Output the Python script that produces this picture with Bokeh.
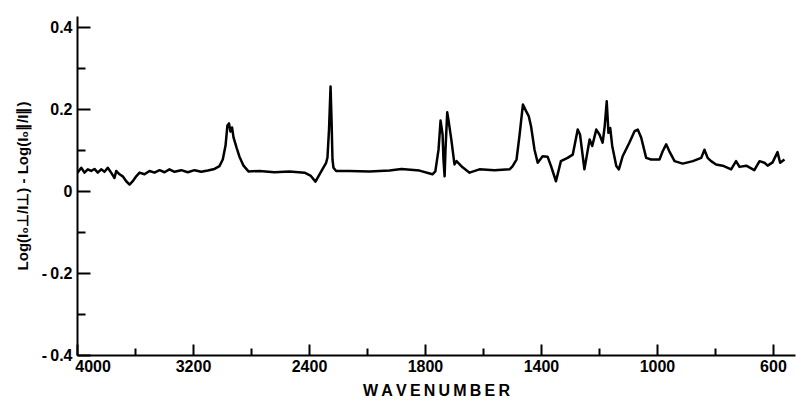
import numpy as np
from bokeh.plotting import figure
from bokeh.models import FixedTicker, Range1d, ColumnDataSource
from bokeh.embed import file_html
from bokeh.resources import INLINE

# ---- data ----
wavenumber = [
    4000, 3974, 3952, 3929, 3906, 3883, 3860, 3837, 3814, 3791, 3768, 3745, 3733, 3710,
    3688, 3664, 3641, 3619, 3595, 3572, 3538, 3503, 3469, 3434, 3400, 3366, 3331, 3285,
    3239, 3193, 3147, 3101, 3055, 3021, 2998, 2979, 2966, 2955, 2945, 2934, 2924, 2903,
    2883, 2855, 2821, 2745, 2641, 2538, 2434, 2395, 2369, 2348, 2314, 2307, 2299, 2291,
    2286, 2281, 2276, 2262, 2193, 2090, 1986, 1924, 1831, 1776, 1766, 1755, 1748, 1741,
    1738, 1734, 1731, 1725, 1721, 1711, 1700, 1693, 1672, 1648, 1614, 1562, 1510, 1500,
    1486, 1476, 1464, 1453, 1444, 1436, 1424, 1413, 1396, 1379, 1367, 1350, 1333, 1310,
    1292, 1275, 1267, 1252, 1234, 1225, 1211, 1200, 1189, 1182, 1175, 1169, 1163, 1156,
    1142, 1133, 1120, 1097, 1079, 1068, 1056, 1039, 1022, 993, 982, 970, 959, 941,
    913, 878, 849, 838, 827, 815, 798, 775, 746, 729, 717, 694, 666, 648,
    631, 620, 603, 586, 577, 562,
]
dichroism = [
    0.046, 0.058, 0.046, 0.054, 0.050, 0.055, 0.046, 0.054, 0.048, 0.058, 0.046, 0.033, 0.050, 0.042,
    0.037, 0.025, 0.017, 0.025, 0.037, 0.046, 0.042, 0.050, 0.046, 0.052, 0.047, 0.054, 0.048, 0.052,
    0.047, 0.052, 0.048, 0.051, 0.055, 0.062, 0.078, 0.112, 0.161, 0.166, 0.146, 0.156, 0.132, 0.107,
    0.085, 0.063, 0.049, 0.050, 0.047, 0.049, 0.046, 0.039, 0.024, 0.042, 0.070, 0.083, 0.151, 0.256,
    0.176, 0.078, 0.058, 0.050, 0.050, 0.049, 0.051, 0.055, 0.051, 0.042, 0.049, 0.102, 0.173, 0.139,
    0.078, 0.037, 0.102, 0.193, 0.176, 0.127, 0.066, 0.074, 0.059, 0.046, 0.054, 0.052, 0.054, 0.061,
    0.078, 0.135, 0.212, 0.196, 0.184, 0.159, 0.102, 0.070, 0.086, 0.085, 0.062, 0.025, 0.074, 0.082,
    0.090, 0.151, 0.139, 0.054, 0.127, 0.111, 0.151, 0.139, 0.119, 0.159, 0.220, 0.143, 0.155, 0.111,
    0.062, 0.054, 0.086, 0.119, 0.147, 0.151, 0.131, 0.082, 0.078, 0.078, 0.098, 0.115, 0.098, 0.074,
    0.068, 0.074, 0.082, 0.102, 0.082, 0.074, 0.066, 0.063, 0.054, 0.074, 0.060, 0.063, 0.052, 0.074,
    0.070, 0.063, 0.071, 0.096, 0.070, 0.078,
]

# the wavenumber axis of the original changes scale: equally spaced ticks
tick_wavenumbers = [4000, 3600, 3200, 2800, 2400, 2100, 1800, 1600, 1400, 1200, 1000, 800, 600, 400]
x_tick_labels = ["4000", "3200", "2400", "1800", "1400", "1000", "600"]
y_ticks = [-0.4, -0.2, 0, 0.2, 0.4]
y_tick_labels = ["-\u20090.4", "-\u20090.2", "0", "0.2", "0.4"]

# piecewise-linear axis transform (tick index position)
tick_pos = np.arange(len(tick_wavenumbers), dtype=float)
def to_axis(w):
    w = np.asarray(w, dtype=float)
    return np.interp(-w, -np.array(tick_wavenumbers, dtype=float), tick_pos)

src = ColumnDataSource(dict(x=to_axis(wavenumber), y=dichroism))

FONT = "Liberation Sans"

p = figure(width=796, height=401, output_backend="svg", toolbar_location=None,
           x_range=Range1d(0, 12.38), y_range=Range1d(-0.4, 0.4268),
           min_border_left=77, min_border_right=1, min_border_top=16, min_border_bottom=46)
p.outline_line_color = None
p.xgrid.visible = False
p.ygrid.visible = False
p.background_fill_color = "white"
p.border_fill_color = "white"

p.line("x", "y", source=src, line_color="black", line_width=2.5, line_join="round")

# x axis
xa = p.xaxis[0]
major_idx = [0, 2, 4, 6, 8, 10, 12]
xa.ticker = FixedTicker(ticks=major_idx, minor_ticks=[1, 3, 5, 7, 9, 11])
overrides = {}
for i, lab in zip(major_idx, x_tick_labels):
    overrides[i] = lab
overrides[0] = "\u00a0" * 7 + x_tick_labels[0]
xa.major_label_overrides = overrides
xa.axis_label = "W\u2009A\u2009V\u2009E\u2009N\u2009U\u2009M\u2009B\u2009E\u2009R"
xa.axis_line_width = 2
xa.axis_line_color = "black"
xa.major_tick_in = 11
xa.major_tick_out = 0
xa.minor_tick_in = 7
xa.minor_tick_out = 0
xa.major_tick_line_width = 2
xa.minor_tick_line_width = 2
xa.major_tick_line_color = "black"
xa.minor_tick_line_color = "black"
xa.major_label_text_font = FONT
xa.major_label_text_font_style = "bold"
xa.major_label_text_font_size = "16px"
xa.major_label_text_color = "black"
xa.major_label_standoff = 2
xa.axis_label_text_font = FONT
xa.axis_label_text_font_style = "bold"
xa.axis_label_text_font_size = "16px"
xa.axis_label_text_color = "black"
xa.axis_label_standoff = 4

# y axis
ya = p.yaxis[0]
ya.ticker = FixedTicker(ticks=y_ticks, minor_ticks=[-0.3, -0.1, 0.1, 0.3])
ya.major_label_overrides = {t: l for t, l in zip(y_ticks, y_tick_labels)}
ya.axis_label = "Log(I\u2080\u22a5/I\u22a5) - Log(I\u2080\u2225/I\u2225)"
ya.axis_line_width = 2
ya.axis_line_color = "black"
ya.major_tick_in = 13
ya.major_tick_out = 0
ya.minor_tick_in = 8
ya.minor_tick_out = 0
ya.major_tick_line_width = 2
ya.minor_tick_line_width = 2
ya.major_tick_line_color = "black"
ya.minor_tick_line_color = "black"
ya.major_label_text_font = FONT
ya.major_label_text_font_style = "bold"
ya.major_label_text_font_size = "16px"
ya.major_label_text_color = "black"
ya.major_label_standoff = 5
ya.axis_label_text_font = FONT
ya.axis_label_text_font_style = "bold"
ya.axis_label_text_font_size = "15px"
ya.axis_label_text_color = "black"
ya.axis_label_standoff = 8

open("out.html", "w").write(file_html(p, INLINE))
